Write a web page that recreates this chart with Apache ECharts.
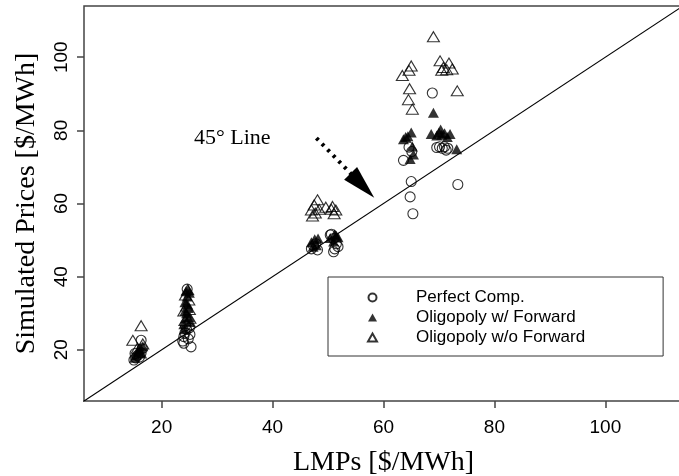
<!DOCTYPE html>
<html>
<head>
<meta charset="utf-8">
<script src="https://cdn.jsdelivr.net/npm/echarts@6/dist/echarts.min.js"></script>
<style>html,body{margin:0;padding:0;background:#fff}#c{width:679px;height:476px}</style>
</head>
<body>
<div id="c"></div>
<script>
// ---- data ----
const seriesNames = ['Perfect Comp.', 'Oligopoly w/ Forward', 'Oligopoly w/o Forward'];
const xTicks = [20, 40, 60, 80, 100];
const yTicks = [20, 40, 60, 80, 100];
const xRange = [6, 114];
const yRange = [6, 114];
const refLine = [[0, 0], [120, 120]];
const arrowFrom = [47.9, 77.9];
const arrowTo = [56.2, 64.9];
const perfectComp = [
  [15.0,17.2],[15.3,17.8],[15.6,18.4],[16.0,18.0],[16.3,19.2],[16.5,20.3],[16.3,22.6],[15.2,19.0],
  [23.8,22.4],[24.0,23.6],[24.2,24.6],[24.5,25.6],[24.8,23.0],[25.1,24.2],[25.3,20.8],[24.3,26.6],[24.6,36.6],[24.0,21.8],[25.0,26.0],
  [47.0,47.6],[47.4,48.4],[48.1,47.3],[47.8,49.0],[50.4,51.4],[51.0,50.4],[51.5,49.0],[51.2,47.6],[51.8,48.2],[51.0,46.8],[50.6,51.6],
  [63.6,71.8],[65.0,66.0],[64.8,61.8],[65.3,57.2],[64.6,75.4],[65.1,74.2],[68.8,90.2],[69.6,75.3],[70.1,75.5],[70.6,75.1],[71.0,75.5],[71.6,75.1],[73.4,65.2],[71.3,74.6]
];
const oligFwd = [
  [15.1,17.8],[15.4,18.6],[15.9,19.4],[16.2,20.4],[16.6,21.0],[15.7,19.8],[16.4,19.0],
  [24.0,27.0],[24.3,28.6],[24.5,30.0],[24.8,31.4],[24.2,33.0],[24.6,34.6],[24.4,36.0],[25.0,29.0],[24.1,25.6],[25.2,27.6],[24.7,32.4],[25.0,35.6],[24.2,30.6],[24.8,36.4],
  [47.0,49.4],[47.6,50.2],[48.2,50.4],[47.9,48.6],[50.4,50.6],[51.2,51.6],[51.8,50.8],[51.0,49.6],[47.3,48.2],[51.5,51.2],
  [63.6,77.6],[64.4,78.4],[65.0,79.4],[65.4,73.4],[64.8,72.2],[65.2,75.6],[64.0,78.2],[69.0,84.8],[68.6,79.0],[69.6,78.6],[70.0,79.4],[70.5,78.8],[71.0,79.2],[71.5,78.2],[72.0,79.0],[73.2,74.8],[70.3,80.2]
];
const oligNoFwd = [
  [14.8,22.6],[16.3,26.6],[15.6,20.4],[16.6,21.6],
  [24.0,30.6],[24.5,32.0],[24.9,33.6],[24.3,35.0],[25.1,28.6],[24.7,36.4],[24.2,28.0],[25.0,31.0],
  [47.0,58.2],[47.5,59.6],[48.1,61.0],[47.7,57.4],[48.4,58.4],[47.2,56.6],[49.6,59.0],[50.8,59.2],[51.4,58.2],[51.1,57.2],[50.6,58.4],
  [63.4,95.0],[64.6,96.4],[65.0,97.6],[64.5,88.4],[64.7,91.4],[65.2,85.8],[69.0,105.6],[70.2,99.0],[70.8,97.2],[71.4,96.6],[71.8,98.4],[72.4,96.8],[73.3,90.8],[70.5,96.4]
];
const xTitle = 'LMPs [$/MWh]';
const yTitle = 'Simulated Prices [$/MWh]';
const noteText = '45\u00b0 Line';

// ---- chart ----
const serif = 'Liberation Serif';
const sans = 'Liberation Sans';
const chart = echarts.init(document.getElementById('c'), null, {renderer: 'canvas'});
const openStyle = {color: 'rgba(0,0,0,0)', borderColor: '#000', borderWidth: 1.1};
chart.setOption({
  animation: false,
  backgroundColor: '#fff',
  grid: {left: 84, top: 6, width: 599, height: 395, show: true, borderColor: '#444', borderWidth: 1.5,
         backgroundColor: 'transparent', outerBoundsMode: 'none', containLabel: false},
  xAxis: {
    type: 'value', min: xRange[0], max: xRange[1],
    axisLine: {show: false},
    axisTick: {show: true, length: 7, lineStyle: {color: '#444', width: 1.5}, customValues: xTicks},
    axisLabel: {fontFamily: sans, fontSize: 19, color: '#000', margin: 17, customValues: xTicks},
    splitLine: {show: false},
    name: xTitle, nameLocation: 'middle', nameGap: 48,
    nameTextStyle: {fontFamily: serif, fontSize: 28, color: '#000'}
  },
  yAxis: {
    type: 'value', min: yRange[0], max: yRange[1],
    axisLine: {show: false},
    axisTick: {show: true, length: 7, lineStyle: {color: '#444', width: 1.5}, customValues: yTicks},
    axisLabel: {fontFamily: sans, fontSize: 19, color: '#000', margin: 13, rotate: 90, customValues: yTicks},
    splitLine: {show: false},
    name: yTitle, nameLocation: 'middle', nameGap: 43,
    nameTextStyle: {fontFamily: serif, fontSize: 28, color: '#000'}
  },
  legend: {
    show: true, orient: 'vertical', left: 328, top: 277,
    data: seriesNames,
    itemWidth: 9, itemHeight: 8, itemGap: 3,
    padding: [12, 78, 10, 39],
    borderColor: '#333', borderWidth: 1, backgroundColor: '#fff',
    textStyle: {fontFamily: sans, fontSize: 17, color: '#000', lineHeight: 17, padding: [0, 0, 0, 34]},
    selectedMode: false
  },
  graphic: [{
    type: 'text', left: 194, top: 127,
    style: {text: noteText, font: '22px "Liberation Serif"', fill: '#000'}
  }],
  series: [
    {
      type: 'line', data: refLine, showSymbol: false, silent: true, clip: true,
      lineStyle: {color: '#000', width: 1.2},
      markLine: {
        silent: true, animation: false,
        symbol: ['none', 'triangle'], symbolSize: [18, 34],
        label: {show: false},
        lineStyle: {color: '#000', width: 4, type: [3, 5]},
        data: [[{coord: arrowFrom}, {coord: arrowTo}]]
      }
    },
    {name: seriesNames[0], type: 'scatter', data: perfectComp, symbol: 'circle', symbolSize: 10, itemStyle: openStyle},
    {name: seriesNames[1], type: 'scatter', data: oligFwd, symbol: 'triangle', symbolSize: [11, 10], itemStyle: {color: '#000'}},
    {name: seriesNames[2], type: 'scatter', data: oligNoFwd, symbol: 'triangle', symbolSize: [12, 10], itemStyle: openStyle}
  ]
});
</script>
</body>
</html>
